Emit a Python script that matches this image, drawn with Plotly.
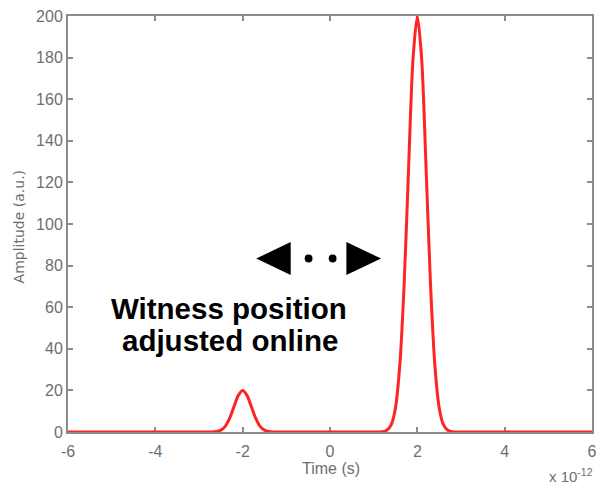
import plotly.graph_objects as go

# Time axis in units of 1e-12 s, amplitude in arbitrary units
time_ps = [-6.0, -2.9, -2.8, -2.7, -2.6, -2.5, -2.4, -2.3, -2.2, -2.1, -2.0,
           -1.9, -1.8, -1.7, -1.6, -1.5, -1.4, -1.3, -1.2, -1.1,
           0.0, 1.1, 1.2, 1.3, 1.4, 1.5, 1.6, 1.7, 1.8, 1.9, 2.0,
           2.1, 2.2, 2.3, 2.4, 2.5, 2.6, 2.7, 2.8, 2.9, 6.0]
amplitude = [0, 0, 0, 0, 0.2, 0.9, 2.7, 6.5, 12.1, 17.6, 20,
             17.6, 12.1, 6.5, 2.7, 0.9, 0.2, 0, 0, 0,
             0, 0, 0.1, 0.8, 3.4, 11.7, 32.6, 72, 127, 179, 200,
             179, 127, 72, 32.6, 11.7, 3.4, 0.8, 0.1, 0, 0]

x_ticks = [-6, -4, -2, 0, 2, 4, 6]
y_ticks = [0, 20, 40, 60, 80, 100, 120, 140, 160, 180, 200]

grey = "#8c8c8c"
label_grey = "#6e6e6e"
font_family = "Liberation Sans, Arial, sans-serif"

fig = go.Figure()
fig.add_trace(go.Scatter(
    x=time_ps, y=amplitude, mode="lines",
    line=dict(color="rgb(255,35,35)", width=3, shape="spline", smoothing=0.8),
    hoverinfo="skip", showlegend=False,
))

axis_common = dict(
    showgrid=False, zeroline=False,
    showline=True, linecolor=grey, linewidth=2, mirror="ticks",
    ticks="inside", ticklen=5, tickwidth=1.5, tickcolor=grey,
    tickfont=dict(family=font_family, size=16, color=label_grey),
    layer="below traces",
)

fig.update_xaxes(range=[-6, 6], tickvals=x_ticks,
                 ticktext=[str(v) for v in x_ticks],
                 ticklabelstandoff=4, **axis_common)
fig.update_yaxes(range=[0, 200], tickvals=y_ticks,
                 ticktext=[str(v) for v in y_ticks], **axis_common)

# Double-headed marker: two triangles with two dots between them
arrow_y = 83.4
fig.add_shape(type="path", path=f"M -1.69,{arrow_y} L -0.9,91.3 L -0.9,75.5 Z",
              fillcolor="black", line=dict(width=0))
fig.add_shape(type="path", path=f"M 1.17,{arrow_y} L 0.375,91.3 L 0.375,75.5 Z",
              fillcolor="black", line=dict(width=0))
for cx in (-0.49, 0.06):
    fig.add_shape(type="circle", x0=cx - 0.09, x1=cx + 0.09,
                  y0=arrow_y - 1.9, y1=arrow_y + 1.9,
                  fillcolor="black", line=dict(width=0))

bold_font = dict(family=font_family, size=29.5, color="black")
fig.add_annotation(x=-2.31, y=59.3, text="<b>Witness position</b>",
                   showarrow=False, font=bold_font, xanchor="center", yanchor="middle")
fig.add_annotation(x=-2.3, y=43.9, text="<b>adjusted online</b>",
                   showarrow=False, font=bold_font, xanchor="center", yanchor="middle")

# Axis titles and exponent label
fig.add_annotation(xref="paper", yref="paper", x=-0.0945, y=0.493,
                   text="Amplitude (a.u.)", textangle=-90, showarrow=False,
                   font=dict(family="DejaVu Sans, sans-serif", size=14, color=label_grey),
                   xanchor="center", yanchor="middle")
fig.add_annotation(xref="paper", yref="paper", x=0.501, y=-0.087,
                   text="Time (s)", showarrow=False,
                   font=dict(family=font_family, size=16, color=label_grey),
                   xanchor="center", yanchor="middle")
fig.add_annotation(xref="paper", yref="paper", x=1.006, y=-0.105,
                   text="x 10<sup>-12</sup>", showarrow=False,
                   font=dict(family=font_family, size=15, color=label_grey),
                   xanchor="right", yanchor="middle")

fig.update_layout(
    width=602, height=485,
    margin=dict(l=68, r=5, t=16, b=53),
    paper_bgcolor="white", plot_bgcolor="white",
)

fig.write_html("out.html")
